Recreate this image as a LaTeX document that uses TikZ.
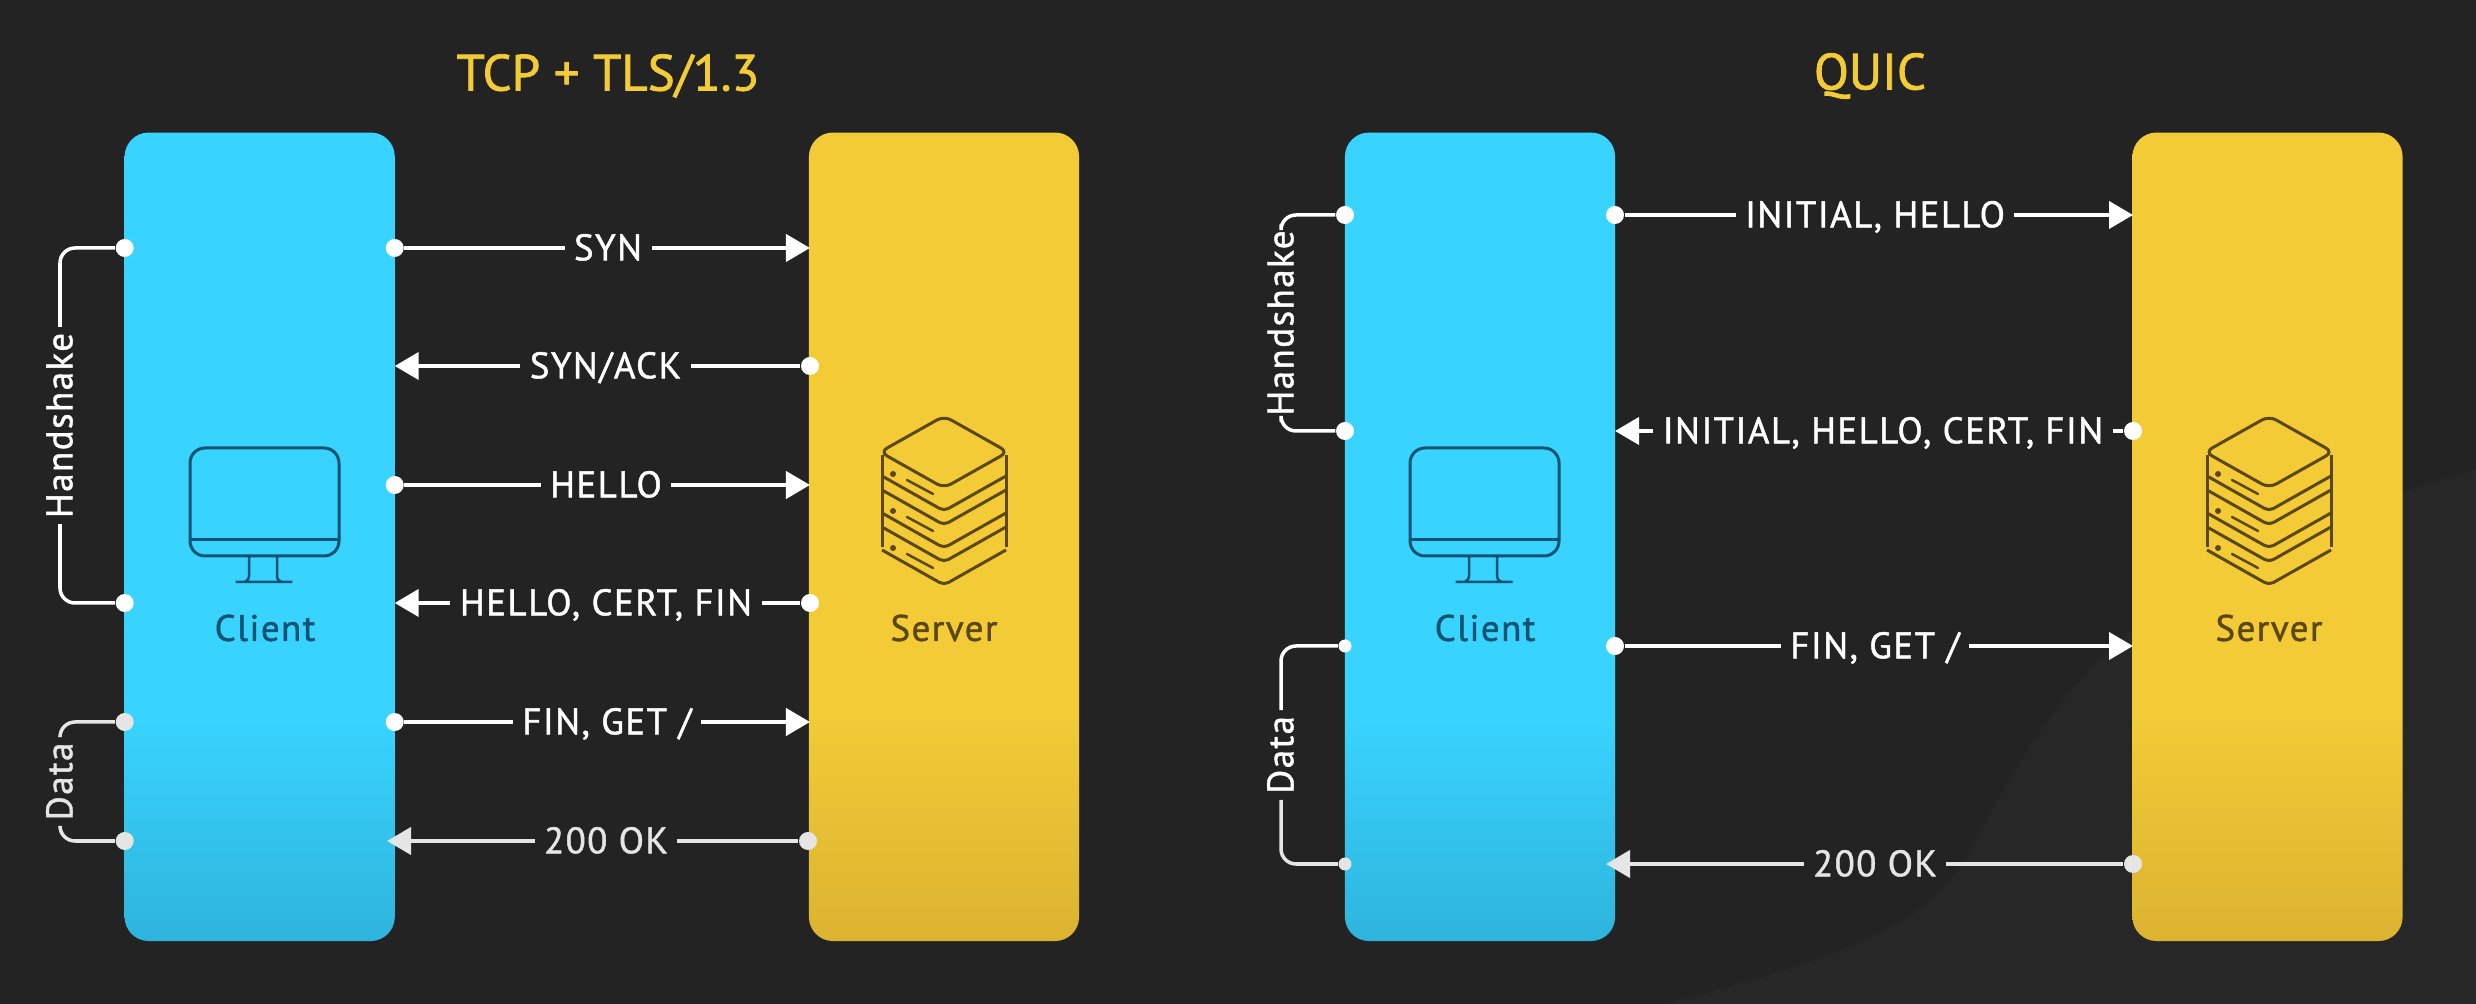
\documentclass[tikz,border=0pt]{standalone}
\usepackage{fontspec}
\setmainfont{PT Sans}
\newfontfamily\msgfont[LetterSpace=4,FakeBold=1.2]{PT Sans}
\newfontfamily\ttlfont[FakeBold=1.5]{PT Sans}
\usetikzlibrary{arrows.meta}
\definecolor{bgdark}{HTML}{232323}
\definecolor{bglight}{HTML}{272727}
\definecolor{cyantop}{HTML}{38D4FF}
\definecolor{cyanbot}{HTML}{2EB4DC}
\definecolor{goldtop}{HTML}{F2CB37}
\definecolor{goldbot}{HTML}{DCB32F}
\definecolor{cyanink}{HTML}{0E5472}
\definecolor{goldink}{HTML}{5C4710}
\pgfdeclareverticalshading{clshade}{100bp}{color(0bp)=(cyanbot); color(25bp)=(cyanbot); color(39bp)=(cyantop); color(100bp)=(cyantop)}
\pgfdeclareverticalshading{svshade}{100bp}{color(0bp)=(goldbot); color(25bp)=(goldbot); color(39bp)=(goldtop); color(100bp)=(goldtop)}
\tikzstyle{box}=[shade, rounded corners=0.24cm, minimum width=2.7cm, minimum height=8.08cm, inner sep=0]
\tikzstyle{cl}=[box, shading=clshade]
\tikzstyle{sv}=[box, shading=svshade]
\tikzstyle{dot}=[circle, fill=white, inner sep=0, minimum size=0.18cm]
\tikzstyle{smalldot}=[dot, minimum size=0.13cm]
\tikzstyle{msg}=[text=white, font=\msgfont\fontsize{10.5}{12}\selectfont, text height=7pt, text depth=0pt, inner xsep=2.5pt, inner ysep=0pt]
\tikzstyle{side}=[msg, rotate=90, inner xsep=1.5pt]
\tikzstyle{flow}=[draw=white, line width=0.04cm]
\tikzstyle{send}=[flow, -{Triangle[length=0.24cm,width=0.27cm]}]
\tikzstyle{brace}=[draw=white, line width=0.035cm, rounded corners=0.15cm]
\tikzstyle{dim}=[draw=white!90!black, text=white!90!black]
\tikzstyle{title}=[text=goldtop, font=\ttlfont\fontsize{14.5}{17}\selectfont]
\tikzstyle{host}=[font=\msgfont\fontsize{10.5}{12}\selectfont]
\tikzset{
	monitor/.pic={
		\draw[cyanink, line width=0.03cm, rounded corners=0.15cm] (190,448) rectangle (339,556);
		\draw[cyanink, line width=0.03cm] (190,540) -- (339,540);
		\draw[cyanink, line width=0.025cm, rounded corners=0.06cm] (249,556) -- (249,582) -- (232,582) -- (296,582) -- (277,582) -- (277,556);
	},
	rack/.pic={
		\draw[goldink, line width=0.03cm, rounded corners=0.08cm] (944,416) -- (1008,452) -- (944,488) -- (880,452) -- cycle;
		\draw[goldink, line width=0.03cm, rounded corners=0.05cm] (882,476) -- (944,511) -- (1006,476);
		\foreach \dy in {0,37} {
			\draw[goldink, line width=0.03cm, rounded corners=0.05cm] (882,490+\dy) -- (944,525+\dy) -- (1006,490+\dy);
			\draw[goldink, line width=0.03cm, rounded corners=0.05cm] (882,513+\dy) -- (944,548+\dy) -- (1006,513+\dy);
		}
		\draw[goldink, line width=0.03cm] (882,455) -- (882,547);
		\draw[goldink, line width=0.03cm] (1006,455) -- (1006,547);
		\foreach \dy in {0,37,74} {
			\fill[goldink] (893,474+\dy) circle (0.03cm);
			\draw[goldink, line width=0.025cm, line cap=round] (907,480+\dy) -- (933,494+\dy);
		}
	}
}

\begin{document}
\begin{tikzpicture}[x=0.01cm, y=-0.01cm]
        \fill[bgdark] (0,0) rectangle (2476,1004);
        \fill[bglight] (1665,1004) .. controls (1830,960) and (1930,930) .. (1972,847) .. controls (2040,720) and (2090,640) .. (2240,560) .. controls (2320,520) and (2400,490) .. (2476,470) -- (2476,1004) -- cycle;
        \useasboundingbox (0,0) rectangle (2476,1004);

        \node[title] (ttla) at (608,76) {TCP + TLS/1.3};
        \node[title] (ttlb) at (1870,76) {QUIC};

        \node[cl] (cla) at (259.7,536.8) {};
        \node[sv] (sva) at (944,536.8) {};
        \node[cl] (clb) at (1480,536.8) {};
        \node[sv] (svb) at (2267.5,536.8) {};

        \pic {monitor};
        \pic at (1220,0) {monitor};
        \pic {rack};
        \pic at (1325,0) {rack};
        \node[host, text=cyanink] (clta) at (265,628) {Client};
        \node[host, text=cyanink] (cltb) at (1485,628) {Client};
        \node[host, text=goldink] (srva) at (944,628) {Server};
        \node[host, text=goldink] (srvb) at (2269,628) {Server};

        \node[dot] (a1) at (394.7,248) {};
        \node[dot] (a2) at (810,366) {};
        \node[dot] (a3) at (394.7,485) {};
        \node[dot] (a4) at (810,603) {};
        \node[dot] (a5) at (394.7,722) {};
        \node[dot, fill=white!90!black] (a6) at (808,841) {};
        \coordinate (e1) at (810,248);
        \coordinate (e2) at (394.7,366);
        \coordinate (e3) at (810,485);
        \coordinate (e4) at (394.7,603);
        \coordinate (e5) at (810,722);
        \coordinate (e6) at (387,841);
        \node[msg] (m1) at (608,248) {SYN};
        \node[msg] (m2) at (605.5,366) {SYN/ACK};
        \node[msg] (m3) at (606,485) {HELLO};
        \node[msg] (m4) at (606,603) {HELLO, CERT, FIN};
        \node[msg] (m5) at (607,722) {FIN, GET /};
        \node[msg, text=white!90!black] (m6) at (606,841) {200 OK};
        \draw[flow] (a1) -- (m1);
        \draw[send] (m1) -- (e1);
        \draw[flow] (a2) -- (m2);
        \draw[send] (m2) -- (e2);
        \draw[flow] (a3) -- (m3);
        \draw[send] (m3) -- (e3);
        \draw[flow] (a4) -- (m4);
        \draw[send] (m4) -- (e4);
        \draw[flow] (a5) -- (m5);
        \draw[send] (m5) -- (e5);
        \draw[flow, dim] (a6) -- (m6);
        \draw[send, dim] (m6) -- (e6);

        \node[dot] (h1) at (124.7,248) {};
        \node[dot] (h2) at (124.7,603) {};
        \node[dot, fill=white!90!black] (d1) at (124.7,722) {};
        \node[dot, fill=white!90!black] (d2) at (124.7,841) {};
        \node[side] (hsa) at (60,425.5) {Handshake};
        \node[side, text=white!90!black] (dta) at (60,781.5) {Data};
        \draw[brace] (h1) -| (hsa.east);
        \draw[brace] (hsa.west) |- (h2);
        \draw[brace, dim] (d1) -| (dta.east);
        \draw[brace, dim] (dta.west) |- (d2);

        \node[dot] (b1) at (1615,215) {};
        \node[dot] (b2) at (2133,431) {};
        \node[dot] (b3) at (1615,646) {};
        \node[dot, fill=white!90!black] (b4) at (2133,864) {};
        \coordinate (f1) at (2133,215);
        \coordinate (f2) at (1615,431);
        \coordinate (f3) at (2133,646);
        \coordinate (f4) at (1606,864);
        \node[msg] (n1) at (1875,215) {INITIAL, HELLO};
        \node[msg] (n2) at (1883,431) {INITIAL, HELLO, CERT, FIN};
        \node[msg] (n3) at (1875,646) {FIN, GET /};
        \node[msg, text=white!90!black] (n4) at (1875,864) {200 OK};
        \draw[flow] (b1) -- (n1);
        \draw[send] (n1) -- (f1);
        \draw[flow] (b2) -- (n2);
        \draw[send] (n2) -- (f2);
        \draw[flow] (b3) -- (n3);
        \draw[send] (n3) -- (f3);
        \draw[flow, dim] (b4) -- (n4);
        \draw[send, dim] (n4) -- (f4);

        \node[dot] (k1) at (1345,215) {};
        \node[dot] (k2) at (1345,431) {};
        \node[smalldot] (g1) at (1345,646) {};
        \node[smalldot, fill=white!90!black] (g2) at (1345,864) {};
        \node[side] (hsb) at (1281,323) {Handshake};
        \node[side] (dtb) at (1281,755) {Data};
        \draw[brace] (k1) -| (hsb.east);
        \draw[brace] (hsb.west) |- (k2);
        \draw[brace] (g1) -| (dtb.east);
        \draw[brace, dim] (dtb.west) |- (g2);
\end{tikzpicture}
\end{document}
